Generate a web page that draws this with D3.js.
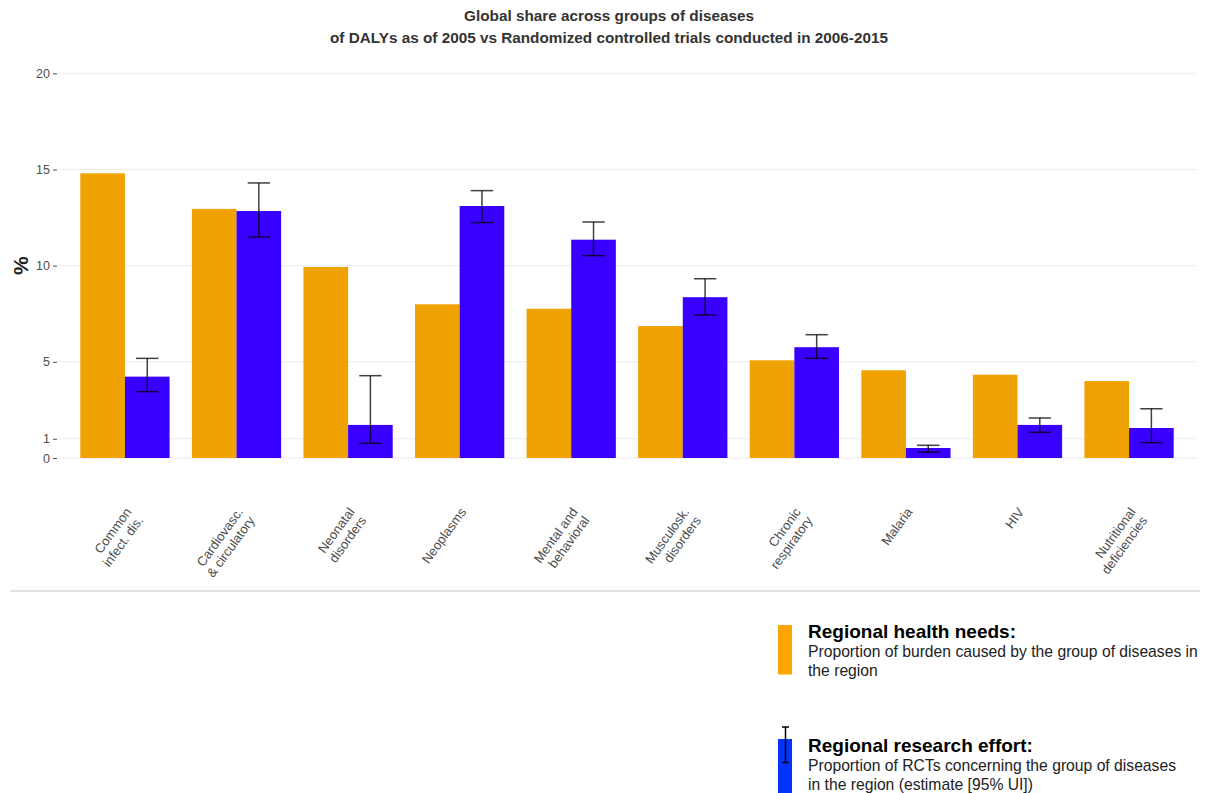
<!DOCTYPE html>
<html>
<head>
<meta charset="utf-8">
<script src="https://cdn.jsdelivr.net/npm/d3@7"></script>
<style>
  html, body { margin: 0; padding: 0; background: #fff; }
  svg { display: block; font-family: "Liberation Sans", Arial, Helvetica, sans-serif; }
</style>
</head>
<body>
<svg id="chart" width="1206" height="793"></svg>
<script>
// ---- data ----
const categories = [
  "Common\ninfect. dis.", "Cardiovasc.\n& circulatory", "Neonatal\ndisorders", "Neoplasms",
  "Mental and\nbehavioral", "Musculosk.\ndisorders", "Chronic\nrespiratory", "Malaria", "HIV",
  "Nutritional\ndeficiencies"
];
const healthNeeds    = [14.8, 12.95, 9.93, 7.99, 7.76, 6.86, 5.08, 4.56, 4.33, 4.0];
const researchEffort = [4.23, 12.84, 1.72, 13.1, 11.35, 8.36, 5.76, 0.52, 1.72, 1.56];
const effortLower    = [3.45, 11.49, 0.76, 12.24, 10.52, 7.44, 5.18, 0.30, 1.34, 0.80];
const effortUpper    = [5.18, 14.30, 4.28, 13.9, 12.27, 9.32, 6.41, 0.66, 2.08, 2.56];
const yTicks = [0, 1, 5, 10, 15, 20];
const series = ["needs", "effort"];

const titleLines = [
  "Global share across groups of diseases",
  "of DALYs as of 2005 vs Randomized controlled trials conducted in 2006-2015"
];
const legendItems = [
  { key: "needs", title: "Regional health needs:",
    lines: ["Proportion of burden caused by the group of diseases in", "the region"] },
  { key: "effort", title: "Regional research effort:",
    lines: ["Proportion of RCTs concerning the group of diseases", "in the region (estimate [95% UI])"] }
];

// ---- styles ----
const barColor = { needs: "#f0a202", effort: "#3a00ff" };
const legendColor = { needs: "#ffa500", effort: "#0433ff" };

const svg = d3.select("#chart");
const panel = { left: 58, right: 1196, top: 73.3, bottom: 458 };

const x = d3.scaleBand().domain(categories).range([panel.left, panel.right])
  .paddingInner(0).paddingOuter(0.1);
const xs = d3.scaleBand().domain(series)
  .range([x.bandwidth() * 0.1, x.bandwidth() * 0.9]);
const y = d3.scaleLinear().domain([0, 20]).range([panel.bottom, panel.top]);

// gridlines
svg.append("g").selectAll("line").data(yTicks).join("line")
  .attr("x1", panel.left).attr("x2", panel.right)
  .attr("y1", d => y(d)).attr("y2", d => y(d))
  .attr("stroke", "#ebebeb").attr("stroke-width", 1);

// y axis
const yAxis = d3.axisLeft(y).tickValues(yTicks).tickSize(4).tickPadding(3);
const gy = svg.append("g").attr("transform", `translate(${panel.left - 1},0)`).call(yAxis);
gy.select(".domain").remove();
gy.selectAll(".tick line").attr("stroke", "#4d4d4d");
gy.selectAll(".tick text").attr("fill", "#4d4d4d").style("font-size", "12.5px")
  .style("font-family", "'Liberation Sans', Arial, sans-serif");

svg.append("text")
  .attr("transform", `translate(28,${y(10)}) rotate(-90)`)
  .attr("text-anchor", "middle")
  .style("font-size", "21px").style("font-weight", "bold").attr("fill", "#222")
  .text("%");

// bars
const rows = categories.map((c, i) => ({
  c, needs: healthNeeds[i], effort: researchEffort[i], lo: effortLower[i], hi: effortUpper[i]
}));
const groups = svg.append("g").selectAll("g").data(rows).join("g")
  .attr("transform", d => `translate(${x(d.c)},0)`);
groups.selectAll("rect").data(d => series.map(s => ({ s, v: d[s] }))).join("rect")
  .attr("x", d => xs(d.s)).attr("width", xs.bandwidth())
  .attr("y", d => y(d.v)).attr("height", d => y(0) - y(d.v))
  .attr("fill", d => barColor[d.s]);

// error bars
const capW = xs.bandwidth() * 0.5;
const eb = groups.append("g").attr("stroke", "#000").attr("stroke-opacity", 0.75).attr("stroke-width", 1.5);
eb.append("line")
  .attr("x1", xs("effort") + xs.bandwidth() / 2).attr("x2", xs("effort") + xs.bandwidth() / 2)
  .attr("y1", d => y(d.lo)).attr("y2", d => y(d.hi));
eb.append("line")
  .attr("x1", xs("effort") + xs.bandwidth() / 2 - capW / 2).attr("x2", xs("effort") + xs.bandwidth() / 2 + capW / 2)
  .attr("y1", d => y(d.hi)).attr("y2", d => y(d.hi));
eb.append("line")
  .attr("x1", xs("effort") + xs.bandwidth() / 2 - capW / 2).attr("x2", xs("effort") + xs.bandwidth() / 2 + capW / 2)
  .attr("y1", d => y(d.lo)).attr("y2", d => y(d.lo));

// x labels
const xl = svg.append("g").selectAll("text").data(categories).join("text")
  .attr("transform", d => `translate(${x(d) + x.bandwidth() / 2 - 1},${panel.bottom + 48}) rotate(-54)`)
  .attr("text-anchor", "end")
  .attr("fill", "#4d4d4d").style("font-size", "13px");
xl.selectAll("tspan").data(d => d.split("\n")).join("tspan")
  .attr("x", 0).attr("y", (d, i) => 10 + i * 14.5).text(d => d);

// separator
svg.append("line").attr("x1", 10).attr("x2", 1200).attr("y1", 591).attr("y2", 591)
  .attr("stroke", "#e3e3e3").attr("stroke-width", 2);

// title
svg.append("g").selectAll("text").data(titleLines).join("text")
  .attr("x", 609).attr("y", (d, i) => 21 + i * 22)
  .attr("text-anchor", "middle").style("font-size", "15.3px").style("font-weight", "bold")
  .attr("fill", "#333").text(d => d);

// legend
const lg = svg.append("g").selectAll("g").data(legendItems).join("g")
  .attr("transform", (d, i) => `translate(778,${i === 0 ? 625 : 739})`);
lg.append("rect").attr("x", 0).attr("y", 0).attr("width", 14)
  .attr("height", d => d.key === "needs" ? 49.5 : 54)
  .attr("fill", d => legendColor[d.key]);
const leb = lg.filter(d => d.key === "effort").append("g").attr("stroke", "#000").attr("stroke-width", 1.5);
leb.append("line").attr("x1", 7.5).attr("x2", 7.5).attr("y1", -12).attr("y2", 23.5);
leb.append("line").attr("x1", 4).attr("x2", 11).attr("y1", -12).attr("y2", -12);
leb.append("line").attr("x1", 4).attr("x2", 11).attr("y1", 23.5).attr("y2", 23.5);
lg.append("text").attr("x", 30).attr("y", 13)
  .style("font-size", "19px").style("font-weight", "bold").attr("fill", "#000")
  .text(d => d.title);
lg.each(function(d) {
  d3.select(this).selectAll("text.desc").data(d.lines).join("text").attr("class", "desc")
    .attr("x", 30).attr("y", (t, i) => 32 + i * 19)
    .style("font-size", "15.7px").attr("fill", "#222").text(t => t);
});
</script>
</body>
</html>
